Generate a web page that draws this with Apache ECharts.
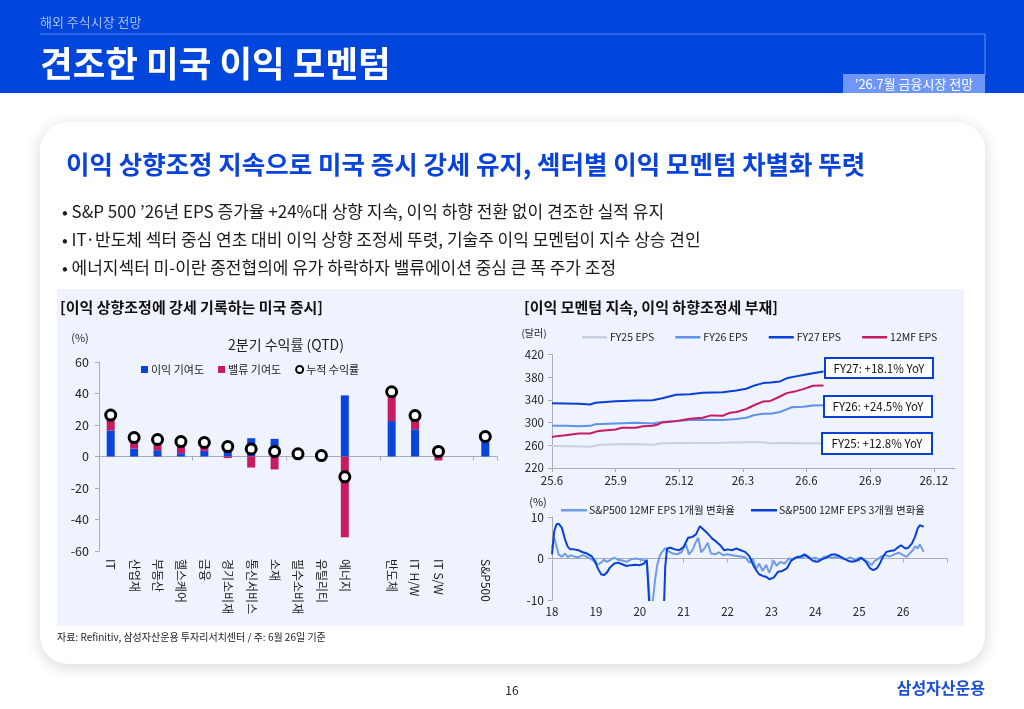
<!DOCTYPE html>
<html><head><meta charset="utf-8">
<script src="https://cdn.jsdelivr.net/npm/echarts@6/dist/echarts.min.js"></script>
<style>html,body{margin:0;padding:0;background:#fff;}#c{width:1024px;height:709px;}</style>
</head><body><div id="c"></div>
<script>
// ---------- Left chart: 2Q returns (QTD) ----------
const sectorCats = ['IT','산업재','부동산','헬스케어','금융','경기소비재','통신서비스','소재','필수소비재','유틸리티','에너지','','반도체','IT H/W','IT S/W','','S&P500'];
const earningsContrib = [16.6, 5.0, 4.0, 2.1, 3.6, 4.6, 11.6, 11.2, 0.5, 0.3, 38.8, null, 22.5, 17.3, 5.7, null, 11.0];
const valuationContrib = [9.7, 7.0, 6.8, 7.4, 5.0, -1.0, -7.0, -8.2, 1.2, 0.3, -51.3, null, 18.6, 8.4, -2.5, null, 1.7];
const cumulativeReturn = [26.3, 12.0, 10.8, 9.5, 8.9, 6.3, 4.8, 3.2, 1.7, 0.6, -12.9, null, 41.1, 26.0, 3.2, null, 12.7];
const leftYTicks = {min: -60, max: 60, interval: 20};

// ---------- Right top: EPS estimates (months since 2025-06) ----------
const fy25Months = [0,1.0,1.8,2.2,3.0,3.95,4.74,5.2,6.5,8.05,9.16,9.95,10.3,10.75,12.8];
const fy25Eps = [258.8,258.2,257.6,260.5,261.7,262.3,261,263.5,264,264.7,265.3,265.3,263.5,264,263.5];
const fy26Months = [0,0.63,1.26,1.8,2.05,3.0,3.95,4.74,5.2,5.85,6.5,7.1,8.05,8.7,9.16,9.55,9.95,10.3,10.75,11.06,11.3,11.85,12.3,12.8];
const fy26Eps = [294.3,294.3,293.7,294.3,297.3,298.5,299.7,298.5,301,303,304.4,305,304.4,306.2,308.6,313.3,315.7,315.7,318.7,323.4,327,328,330,330.5];
const fy27Months = [0,0.63,1.26,1.8,2.05,3.0,3.95,4.74,5.2,5.85,6.5,7.1,8.05,8.7,9.16,9.55,9.95,10.3,10.75,11.06,11.37,11.85,12.3,12.8];
const fy27Eps = [334,333.5,333,332,335,337.6,339,339.4,343,349,350,352.5,353.6,356.6,359.6,365.5,369.6,370.8,372.6,378,380.6,384,387,390];
const m12Months = [0,0.3,0.63,1.0,1.26,1.8,2.2,2.6,3.0,3.3,3.95,4.3,4.74,5.0,5.2,5.85,6.5,7.1,7.5,8.05,8.4,8.7,9.16,9.55,9.95,10.3,10.75,11.06,11.5,11.85,12.3,12.8];
const m12Eps = [274.8,276.6,277.7,279.5,280.7,280.7,285.4,286.6,287.8,290.8,290.8,293.7,294.3,296.7,300.3,302.6,306.8,308.6,312.7,312,317.5,318.7,324,331,337,338.2,346,351.9,355.4,359,365,365.5];
const epsLabels = ['FY27: +18.1% YoY','FY26: +24.5% YoY','FY25: +12.8% YoY'];

// ---------- Right bottom: 12MF EPS change (year, %) ----------
const chg3mYears = [18.0,18.05,18.1,18.15,18.22,18.3,18.36,18.42,18.5,18.6,18.7,18.8,18.9,18.97,19.05,19.12,19.18,19.25,19.32,19.42,19.5,19.6,19.7,19.8,19.9,20.0,20.1,20.16,20.2,20.25,20.3,20.4,20.5,20.55,20.58,20.62,20.7,20.8,20.9,21.0,21.1,21.2,21.28,21.37,21.45,21.55,21.65,21.75,21.85,21.92,22.0,22.1,22.2,22.3,22.4,22.5,22.58,22.65,22.72,22.8,22.88,22.95,23.05,23.15,23.25,23.35,23.45,23.55,23.65,23.75,23.85,23.95,24.05,24.15,24.25,24.35,24.45,24.55,24.65,24.75,24.85,24.95,25.05,25.15,25.25,25.32,25.4,25.48,25.55,25.62,25.7,25.8,25.9,25.95,26.05,26.12,26.2,26.27,26.33,26.38,26.43,26.47];
const chg3m = [1.0,6.5,8.2,8.4,7.5,4.5,2.8,2.2,2.2,2.0,1.5,1.2,0.6,-0.5,-2.5,-3.8,-4.0,-3.4,-2.2,-1.2,-1.0,-1.4,-1.8,-1.6,-1.5,-1.6,-1.2,-0.3,-8,-18,-25,-28,-20,-12,-2,2.4,2.6,2.2,2.0,2.8,5.0,5.2,5.8,7.8,7.0,6.0,4.8,4.0,3.0,2.0,2.2,2.0,2.4,2.0,1.6,0.5,-1.5,-2.8,-3.8,-4.2,-4.4,-5.0,-4.6,-3.2,-3.0,-2.4,-0.5,0.2,0.4,1.0,0.2,-0.6,-0.8,-0.2,0.2,0.9,1.0,0.6,0.0,-0.6,-0.8,-0.5,0.2,-0.8,-2.4,-2.8,-2.4,-1.0,0.6,1.6,1.8,2.0,2.8,3.2,2.4,2.6,3.6,5.2,7.2,8.0,7.8,7.8];
const chg1mYears = [18.0,18.05,18.1,18.15,18.22,18.3,18.36,18.42,18.5,18.6,18.7,18.8,18.9,18.97,19.05,19.12,19.18,19.25,19.32,19.42,19.5,19.6,19.7,19.8,19.9,20.0,20.1,20.16,20.2,20.25,20.3,20.35,20.4,20.45,20.5,20.58,20.65,20.75,20.85,20.95,21.05,21.12,21.2,21.28,21.33,21.4,21.48,21.55,21.62,21.72,21.8,21.9,22.0,22.1,22.2,22.3,22.4,22.5,22.58,22.65,22.72,22.8,22.88,22.95,23.05,23.12,23.2,23.3,23.4,23.5,23.6,23.7,23.8,23.9,24.0,24.1,24.2,24.3,24.4,24.5,24.6,24.7,24.8,24.9,25.0,25.1,25.2,25.28,25.35,25.42,25.5,25.6,25.7,25.8,25.9,26.0,26.08,26.15,26.22,26.28,26.33,26.38,26.42,26.47];
const chg1m = [2.5,5.0,3.0,1.0,0.4,1.2,0.3,0.8,0.5,0.3,0.8,0.4,-0.2,-0.8,-1.4,-1.0,-0.3,-0.8,-0.4,0.2,-0.3,-0.5,-0.8,-0.2,0.0,-0.2,-0.5,-1.0,-6,-14,-10,-5,-1.5,0.5,1.5,2.5,1.8,1.2,1.0,1.5,3.5,1.0,2.0,4.0,5.0,1.5,2.5,3.8,1.2,1.0,1.5,0.8,1.0,0.8,0.6,0.5,0.3,-1.0,-0.2,-2.5,-1.2,-3.0,-1.5,-3.5,-0.5,-1.8,-0.8,-1.2,0.0,-0.2,0.5,0.2,0.8,0.0,0.2,-0.3,0.4,0.5,0.2,0.4,0.0,-0.2,0.3,-0.4,0.2,-0.3,-0.8,-1.6,-0.6,-0.2,0.5,0.8,0.5,1.0,1.4,0.8,0.4,1.2,2.0,3.0,2.4,3.4,3.2,1.6];

// ---------- Page texts ----------
const bullets = [
  '• S&P 500 \u201926년 EPS 증가율 +24%대 상향 지속, 이익 하향 전환 없이 견조한 실적 유지',
  '• IT·반도체 섹터 중심 연초 대비 이익 상향 조정세 뚜렷, 기술주 이익 모멘텀이 지수 상승 견인',
  '• 에너지섹터 미-이란 종전협의에 유가 하락하자 밸류에이션 중심 큰 폭 주가 조정'
];

const F = "'Noto Sans CJK KR','Noto Sans',sans-serif";
const BLUE = '#0a44dc', PINK = '#c81a60';
const AX = '#a9abb8';
const pair = (xs, ys) => xs.map((x, i) => [x, ys[i]]);
const monthLabel = m => { const t = 5 + m; return (25 + Math.floor(t / 12)) + '.' + (t % 12 + 1); };

function txt(x, y, text, size, color, weight, align, z) {
  return {type: 'text', x, y, z: z || 1, style: {text, fill: color, fontSize: size, fontFamily: F, fontWeight: weight || 'normal', align: align || 'left', verticalAlign: 'middle'}};
}
function box(x, y, w, h, label) {
  return {type: 'group', z: 60, children: [
    {type: 'rect', shape: {x, y, width: w, height: h}, style: {fill: '#fff', stroke: '#0a3fd8', lineWidth: 2}, z: 60},
    {type: 'text', x: x + w / 2, y: y + h / 2 + 0.5, z: 61, style: {text: label, fill: '#111', fontSize: 11.5, fontFamily: F, align: 'center', verticalAlign: 'middle'}}
  ]};
}

const graphic = [
  {type: 'rect', shape: {x: 0, y: 0, width: 1024, height: 93}, style: {fill: '#0046dc'}},
  txt(40, 22, '해외 주식시장 전망', 13, '#a9bdf3'),
  {type: 'polyline', shape: {points: [[40, 34], [985, 34], [985, 75]]}, style: {stroke: '#5485f2', lineWidth: 1.2, fill: null}},
  {type: 'rect', shape: {x: 843, y: 74, width: 142, height: 19}, style: {fill: '#6f97f7'}},
  txt(914, 84, '\u201926.7월 금융시장 전망', 13, '#ffffff', 'normal', 'center'),
  txt(40, 64, '견조한 미국 이익 모멘텀', 35.5, '#ffffff', 'bold'),
  {type: 'rect', shape: {x: 40, y: 122, width: 945, height: 542, r: 28}, style: {fill: '#fff', shadowBlur: 16, shadowColor: 'rgba(0,0,0,0.16)', shadowOffsetY: 3}},
  txt(66, 164, '이익 상향조정 지속으로 미국 증시 강세 유지, 섹터별 이익 모멘텀 차별화 뚜렷', 25.5, '#0a42dc', 'bold'),
  txt(62, 212, bullets[0], 17, '#1a1a1a'),
  txt(62, 240, bullets[1], 17, '#1a1a1a'),
  txt(62, 268, bullets[2], 17, '#1a1a1a'),
  {type: 'rect', shape: {x: 57, y: 289, width: 907, height: 337}, style: {fill: '#eef3fd'}},
  txt(60, 307, '[이익 상향조정에 강세 기록하는 미국 증시]', 15, '#111', 'bold'),
  txt(524, 307, '[이익 모멘텀 지속, 이익 하향조정세 부재]', 15, '#111', 'bold'),
  txt(80, 338, '(%)', 11, '#222', 'normal', 'center'),
  txt(286, 345, '2분기 수익률 (QTD)', 14, '#222', 'normal', 'center'),
  txt(534, 333, '(달러)', 10, '#222', 'normal', 'center'),
  txt(538, 502, '(%)', 11, '#222', 'normal', 'center'),
  box(825, 358, 108, 20, epsLabels[0]),
  box(824, 396, 108, 21, epsLabels[1]),
  box(822, 433, 110, 21, epsLabels[2]),
  txt(57, 637, '자료: Refinitiv, 삼성자산운용 투자리서치센터 / 주: 6월 26일 기준', 10, '#222'),
  txt(512, 690, '16', 12, '#222', 'normal', 'center'),
  txt(985, 688, '삼성자산운용', 16, '#1a4fd6', 'bold', 'right')
];

const axisLabelBase = {color: '#222', fontFamily: F};

const option = {
  animation: false,
  textStyle: {fontFamily: F},
  graphic,
  legend: [
    {left: 136, top: 359, itemWidth: 7, itemHeight: 7, itemGap: 14, textStyle: {fontSize: 11, color: '#222', fontFamily: F, padding: [0, 0, 0, -2]},
     data: [{name: '이익 기여도', icon: 'rect'}, {name: '밸류 기여도', icon: 'rect'}, {name: '누적 수익률', icon: 'circle'}]},
    {left: 577, top: 327, itemWidth: 25, itemHeight: 2.5, itemGap: 21, icon: 'rect', textStyle: {fontSize: 10.5, color: '#222', fontFamily: F, padding: [0, 0, 0, -2]},
     data: ['FY25 EPS', 'FY26 EPS', 'FY27 EPS', '12MF EPS']},
    {left: 556, top: 500, itemWidth: 26, itemHeight: 2.5, itemGap: 16, icon: 'rect', textStyle: {fontSize: 10.5, color: '#222', fontFamily: F, padding: [0, 0, 0, -3]},
     data: ['S&P500 12MF EPS 1개월 변화율', 'S&P500 12MF EPS 3개월 변화율']}
  ],
  grid: [
    {left: 99, right: 527, top: 362, bottom: 158},
    {left: 552, right: 69, top: 354.5, bottom: 241},
    {left: 552, right: 77, top: 517, bottom: 109}
  ],
  xAxis: [
    {gridIndex: 0, type: 'category', data: sectorCats, position: 'top', axisLine: {onZero: true, lineStyle: {color: AX}},
     axisTick: {show: true, inside: true, length: 4, lineStyle: {color: AX}}, axisLabel: {show: false}, splitLine: {show: false}},
    {gridIndex: 0, type: 'category', data: sectorCats, position: 'bottom', axisLine: {show: false, onZero: false}, axisTick: {show: false},
     axisLabel: Object.assign({rotate: -90, fontSize: 12, margin: 8, interval: 0}, axisLabelBase)},
    {gridIndex: 1, type: 'value', min: 0, max: 19, interval: 3, axisLine: {lineStyle: {color: AX}}, axisTick: {show: true, length: 4, lineStyle: {color: AX}},
     splitLine: {show: false}, axisLabel: Object.assign({fontSize: 11.5, margin: 7, showMaxLabel: false, formatter: monthLabel}, axisLabelBase)},
    {gridIndex: 2, type: 'value', min: 18, max: 27, interval: 1, position: 'top', axisLine: {onZero: true, lineStyle: {color: AX}},
     axisTick: {show: true, inside: true, length: 4, lineStyle: {color: AX}}, axisLabel: {show: false}, splitLine: {show: false}},
    {gridIndex: 2, type: 'value', min: 18, max: 27, interval: 1, position: 'bottom', axisLine: {show: false, onZero: false}, axisTick: {show: false},
     splitLine: {show: false}, axisLabel: Object.assign({fontSize: 11.5, margin: 6, showMaxLabel: false, formatter: v => String(v)}, axisLabelBase)}
  ],
  yAxis: [
    {gridIndex: 0, type: 'value', min: leftYTicks.min, max: leftYTicks.max, interval: leftYTicks.interval, axisLine: {show: true, lineStyle: {color: AX}},
     axisTick: {show: true, length: 4, lineStyle: {color: AX}}, splitLine: {show: false}, axisLabel: Object.assign({fontSize: 12.5, margin: 10}, axisLabelBase)},
    {gridIndex: 1, type: 'value', min: 220, max: 420, interval: 40, axisLine: {show: true, lineStyle: {color: AX}},
     axisTick: {show: true, length: 4, lineStyle: {color: AX}}, splitLine: {show: false}, axisLabel: Object.assign({fontSize: 11.5, margin: 8}, axisLabelBase)},
    {gridIndex: 2, type: 'value', min: -10, max: 10, interval: 10, axisLine: {show: true, lineStyle: {color: AX}},
     axisTick: {show: true, length: 4, lineStyle: {color: AX}}, splitLine: {show: false}, axisLabel: Object.assign({fontSize: 12, margin: 8}, axisLabelBase)}
  ],
  series: [
    {name: '이익 기여도', type: 'bar', xAxisIndex: 0, yAxisIndex: 0, stack: 'q', barWidth: 8, data: earningsContrib, itemStyle: {color: BLUE}},
    {name: '밸류 기여도', type: 'bar', xAxisIndex: 0, yAxisIndex: 0, stack: 'q', barWidth: 8, data: valuationContrib, itemStyle: {color: PINK}},
    {name: '누적 수익률', type: 'scatter', xAxisIndex: 0, yAxisIndex: 0, symbolSize: 10, z: 5, data: cumulativeReturn,
     itemStyle: {color: '#fff', borderColor: '#000', borderWidth: 3, opacity: 1}},
    {name: 'FY25 EPS', type: 'line', xAxisIndex: 2, yAxisIndex: 1, showSymbol: false, data: pair(fy25Months, fy25Eps), lineStyle: {width: 2, color: '#c9cfe3'}, itemStyle: {color: '#c9cfe3'}},
    {name: 'FY26 EPS', type: 'line', xAxisIndex: 2, yAxisIndex: 1, showSymbol: false, data: pair(fy26Months, fy26Eps), lineStyle: {width: 2, color: '#5f90ea'}, itemStyle: {color: '#5f90ea'}},
    {name: 'FY27 EPS', type: 'line', xAxisIndex: 2, yAxisIndex: 1, showSymbol: false, data: pair(fy27Months, fy27Eps), lineStyle: {width: 2, color: '#0a3fd8'}, itemStyle: {color: '#0a3fd8'}},
    {name: '12MF EPS', type: 'line', xAxisIndex: 2, yAxisIndex: 1, showSymbol: false, data: pair(m12Months, m12Eps), lineStyle: {width: 2, color: PINK}, itemStyle: {color: PINK}},
    {name: 'S&P500 12MF EPS 1개월 변화율', type: 'line', xAxisIndex: 3, yAxisIndex: 2, showSymbol: false, clip: true, data: pair(chg1mYears, chg1m), lineStyle: {width: 2, color: '#6f9be8'}, itemStyle: {color: '#6f9be8'}},
    {name: 'S&P500 12MF EPS 3개월 변화율', type: 'line', xAxisIndex: 3, yAxisIndex: 2, showSymbol: false, clip: true, data: pair(chg3mYears, chg3m), lineStyle: {width: 2, color: '#0a3fd8'}, itemStyle: {color: '#0a3fd8'}}
  ]
};
const chart = echarts.init(document.getElementById('c'), null, {renderer: 'canvas'});
chart.setOption(option);
</script></body></html>
